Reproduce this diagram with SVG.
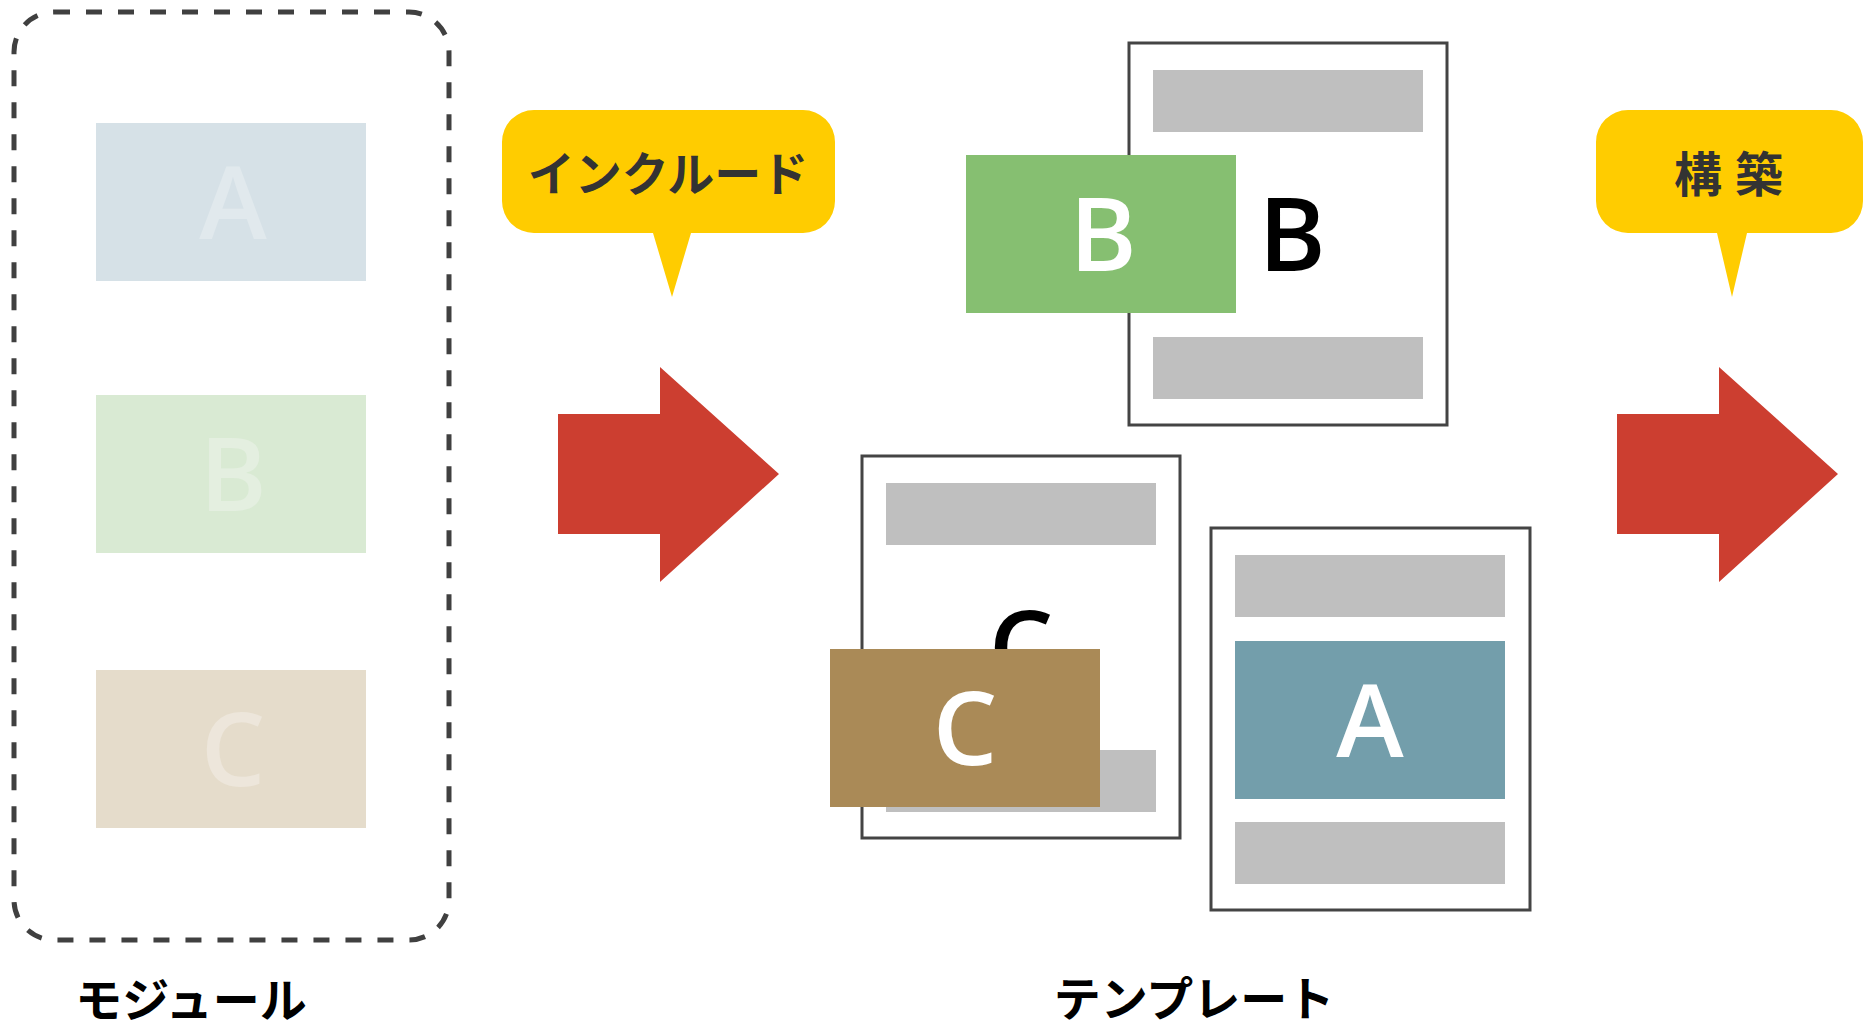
<svg xmlns="http://www.w3.org/2000/svg" width="1868" height="1025" viewBox="0 0 1868 1025">
<style>
.page{fill:#fff;stroke:#444;stroke-width:3}
.bar{fill:#bfbfbf}
.big{font-family:"Open Sans","Liberation Sans",sans-serif;font-size:102px;font-weight:600;text-anchor:middle}
.jp{font-family:"Noto Sans CJK JP","Noto Sans CJK SC",sans-serif;font-weight:700;text-anchor:middle;dominant-baseline:central}
.arrow{fill:#cc3e30}
.bubble{fill:#ffcc00}
</style>
<rect width="1868" height="1025" fill="#fff"/>
<g id="modules">
  <rect x="14" y="12" width="435" height="928" rx="40" fill="none" stroke="#404040" stroke-width="5" stroke-dasharray="16 16"/>
  <g id="module-a">
    <rect x="96" y="123" width="270" height="158" fill="#d6e1e7"/>
    <text class="big" x="233" y="239" fill="#e1e9ed">A</text>
  </g>
  <g id="module-b">
    <rect x="96" y="395" width="270" height="158" fill="#d9ead3"/>
    <text class="big" x="233" y="511" fill="#e4efe0">B</text>
  </g>
  <g id="module-c">
    <rect x="96" y="670" width="270" height="158" fill="#e5dccb"/>
    <text class="big" x="233" y="786" fill="#ede6db">C</text>
  </g>
  <text class="jp" x="191" y="996" font-size="47" fill="#000">モジュール</text>
</g>
<g id="include">
  <path class="bubble" d="M534,110 H803 A32,32 0 0 1 835,142 V201 A32,32 0 0 1 803,233 H691 L672,297 L653,233 H534 A32,32 0 0 1 502,201 V142 A32,32 0 0 1 534,110 Z"/>
  <text class="jp" x="668" y="170" font-size="47" fill="#333">インクルード</text>
</g>
<g id="build">
  <path class="bubble" d="M1628,110 H1831 A32,32 0 0 1 1863,142 V201 A32,32 0 0 1 1831,233 H1747 L1732,297 L1717,233 H1628 A32,32 0 0 1 1596,201 V142 A32,32 0 0 1 1628,110 Z"/>
  <text class="jp" x="1735" y="171" font-size="48" fill="#333" letter-spacing="13">構築</text>
</g>
<g id="connectors">
  <polygon class="arrow" points="558,414 660,414 660,367 779,474 660,582 660,534 558,534"/>
  <polygon class="arrow" points="1617,414 1719,414 1719,367 1838,474 1719,582 1719,534 1617,534"/>
</g>
<g id="template-b">
  <rect class="page" x="1129" y="43" width="318" height="382"/>
  <rect class="bar" x="1153" y="70" width="270" height="62"/>
  <rect class="bar" x="1153" y="337" width="270" height="62"/>
  <text class="big" x="1292" y="271" fill="#000" font-weight="700">B</text>
  <rect x="966" y="155" width="270" height="158" fill="#86bf71"/>
  <text class="big" x="1103" y="271" fill="#fff">B</text>
</g>
<g id="template-c">
  <rect class="page" x="862" y="456" width="318" height="382"/>
  <rect class="bar" x="886" y="483" width="270" height="62"/>
  <rect class="bar" x="886" y="750" width="270" height="62"/>
  <text class="big" x="1021" y="684" fill="#000" font-weight="700">C</text>
  <rect x="830" y="649" width="270" height="158" fill="#aa8a57"/>
  <text class="big" x="965" y="765" fill="#fff">C</text>
</g>
<g id="template-a">
  <rect class="page" x="1211" y="528" width="319" height="382"/>
  <rect class="bar" x="1235" y="555" width="270" height="62"/>
  <rect x="1235" y="641" width="270" height="158" fill="#739eab"/>
  <text class="big" x="1370" y="757" fill="#fff">A</text>
  <rect class="bar" x="1235" y="822" width="270" height="62"/>
</g>
<text class="jp" x="1194" y="995" font-size="47" fill="#000">テンプレート</text>
</svg>
